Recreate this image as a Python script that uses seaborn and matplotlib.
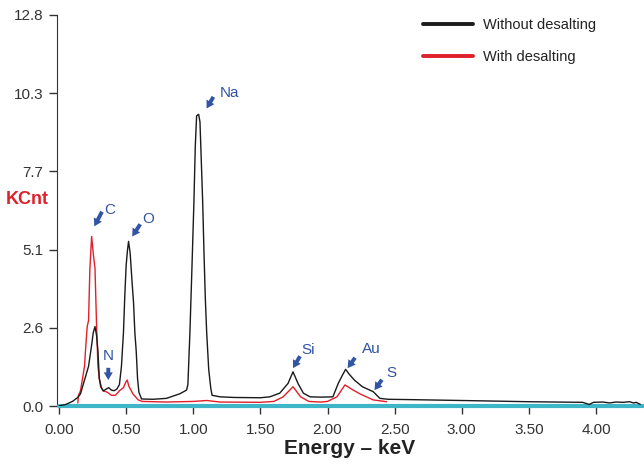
import numpy as np
import pandas as pd
import matplotlib
matplotlib.use("Agg")
import matplotlib.pyplot as plt
import seaborn as sns

# EDS spectrum values (energy in keV, counts in KCnt)
without_x = [0.00, 0.05, 0.10, 0.14, 0.16, 0.18, 0.20, 0.22, 0.24, 0.255, 0.268, 0.28, 0.29, 0.30,
             0.315, 0.33, 0.35, 0.37, 0.39, 0.41, 0.43, 0.45, 0.465, 0.48, 0.49, 0.50, 0.51, 0.518,
             0.53, 0.545, 0.555, 0.565, 0.575, 0.585, 0.595, 0.615, 0.70, 0.80, 0.90, 0.95, 0.96,
             0.975, 0.99, 1.005, 1.015, 1.025, 1.04, 1.05, 1.06, 1.07, 1.08, 1.09, 1.10, 1.115,
             1.13, 1.14, 1.20, 1.30, 1.50, 1.57, 1.644, 1.706, 1.743, 1.78, 1.82, 1.87, 1.95, 2.04,
             2.08, 2.11, 2.135, 2.16, 2.20, 2.26, 2.34, 2.39, 2.45, 2.60, 3.00, 3.50, 3.90, 3.95,
             3.98, 4.05, 4.10, 4.15, 4.20, 4.25, 4.28, 4.30, 4.33]
without_y = [0.00, 0.05, 0.15, 0.28, 0.40, 0.70, 1.00, 1.30, 1.90, 2.40, 2.60, 2.30, 1.80, 0.90,
             0.60, 0.49, 0.55, 0.60, 0.52, 0.50, 0.55, 0.70, 1.30, 2.40, 3.60, 4.60, 5.10, 5.39,
             5.00, 4.00, 3.40, 2.40, 1.80, 0.90, 0.45, 0.23, 0.22, 0.25, 0.40, 0.52, 0.70,
             2.40, 4.50, 6.70, 8.50, 9.50, 9.55, 9.30, 8.00, 6.70, 5.00, 3.50, 2.40, 1.20,
             0.60, 0.35, 0.30, 0.28, 0.27, 0.30, 0.42, 0.74, 1.12, 0.74, 0.42, 0.30, 0.29, 0.30,
             0.74, 1.00, 1.20, 1.05, 0.85, 0.63, 0.47, 0.25, 0.22, 0.21, 0.18, 0.14, 0.12, 0.05,
             0.12, 0.13, 0.10, 0.13, 0.12, 0.14, 0.10, 0.12, 0.05]

with_x = [0.14, 0.145, 0.16, 0.175, 0.19, 0.20, 0.21, 0.22, 0.23, 0.243, 0.255, 0.268, 0.28, 0.29,
          0.30, 0.31, 0.33, 0.36, 0.39, 0.42, 0.45, 0.48, 0.50, 0.508, 0.52, 0.55, 0.59, 0.62,
          0.80, 1.00, 1.10, 1.20, 1.50, 1.60, 1.67, 1.743, 1.80, 1.86, 1.95, 2.00, 2.07, 2.13,
          2.18, 2.24, 2.34, 2.44]
with_y = [0.10, 0.35, 0.50, 0.90, 1.30, 2.00, 2.60, 2.80, 4.50, 5.55, 5.00, 4.50, 2.60, 1.30,
          0.90, 0.63, 0.50, 0.45, 0.35, 0.35, 0.50, 0.60, 0.80, 0.85, 0.65, 0.40, 0.20, 0.15,
          0.13, 0.15, 0.18, 0.13, 0.12, 0.15, 0.30, 0.63, 0.30, 0.15, 0.13, 0.15, 0.30, 0.69,
          0.55, 0.40, 0.20, 0.14]

base_x = [0.00, 4.35]
base_y = [0.00, 0.00]

y_ticks = [0, 2.56, 5.12, 7.68, 10.24, 12.8]
y_labels = ["0.0", "2.6", "5.1", "7.7", "10.3", "12.8"]
x_ticks = [0, 0.5, 1, 1.5, 2, 2.5, 3, 3.5, 4]

# element labels: name, label pos, arrow tail, arrow tip
elements = ["C", "O", "Na", "N", "Si", "Au", "S"]
label_xy = [(0.38, 6.42), (0.665, 6.12), (1.27, 10.25), (0.367, 1.64), (1.855, 1.84), (2.33, 1.86), (2.475, 1.07)]
tail_xy = [(0.32, 6.36), (0.605, 5.95), (1.15, 10.12), (0.367, 1.25), (1.795, 1.63), (2.205, 1.58), (2.405, 0.86)]
tip_xy = [(0.263, 5.88), (0.545, 5.55), (1.099, 9.74), (0.367, 0.85), (1.743, 1.24), (2.15, 1.24), (2.35, 0.52)]

sns.set_style("ticks")
plt.rcParams['font.family'] = ['Liberation Sans', 'DejaVu Sans']

fig = plt.figure(figsize=(6.44, 4.68), dpi=100)
ax = fig.add_axes([57 / 644, 1 - 406 / 468, 586 / 644, 391 / 468])

df_without = pd.DataFrame({"x": without_x, "y": without_y})
df_with = pd.DataFrame({"x": with_x, "y": with_y})
df_base = pd.DataFrame({"x": base_x, "y": base_y})

sns.lineplot(data=df_base, x="x", y="y", color="#3fb6c8", linewidth=3.0, ax=ax, zorder=2.6,
             clip_on=False)
sns.lineplot(data=df_without, x="x", y="y", color="#1a1a1a", linewidth=1.0, ax=ax,
             estimator=None, label="Without desalting", zorder=3)
sns.lineplot(data=df_with, x="x", y="y", color="#e0202a", linewidth=1.0, ax=ax,
             estimator=None, label="With desalting", zorder=2.8)

ax.set_xlim(-0.015, 4.35)
ax.set_ylim(0, 12.8)
ax.set_yticks(y_ticks)
ax.set_yticklabels(y_labels)
ax.set_xticks(x_ticks)
ax.set_xticklabels([f"{t:.2f}" for t in x_ticks])
ax.tick_params(axis="both", labelsize=11, colors="#333333", length=6, width=1, pad=4)
ax.tick_params(axis="x", pad=6)
ax.set_xlabel("Energy \u2013 keV", fontsize=15, fontweight="bold", color="#222222", labelpad=2)
ax.set_ylabel("")
sns.despine(ax=ax)
ax.spines["left"].set_color("#333333")
ax.spines["bottom"].set_color("#333333")

fig.text(27 / 644, 1 - 200 / 468, "KCnt", color="#e0202a", fontsize=13, fontweight="bold",
         ha="center", va="center")

for name, lab, tail, tip in zip(elements, label_xy, tail_xy, tip_xy):
    ax.annotate("", xy=tip, xytext=tail,
                arrowprops=dict(arrowstyle="simple,head_width=0.65,head_length=0.55,tail_width=0.28",
                                color="#3154a4", lw=0, shrinkA=0, shrinkB=0))
    ax.text(lab[0], lab[1], name, color="#3154a4", fontsize=11, ha="center", va="center")

leg = ax.legend(loc="upper left", bbox_to_anchor=(410 / 644, 1 - 5 / 468),
                bbox_transform=fig.transFigure, frameon=False, fontsize=10.5,
                handlelength=3.4, handletextpad=0.7, labelspacing=1.2)
for line in leg.get_lines():
    line.set_linewidth(2.8)
for t in leg.get_texts():
    t.set_color("#222222")

fig.savefig("out.png", dpi=100)
